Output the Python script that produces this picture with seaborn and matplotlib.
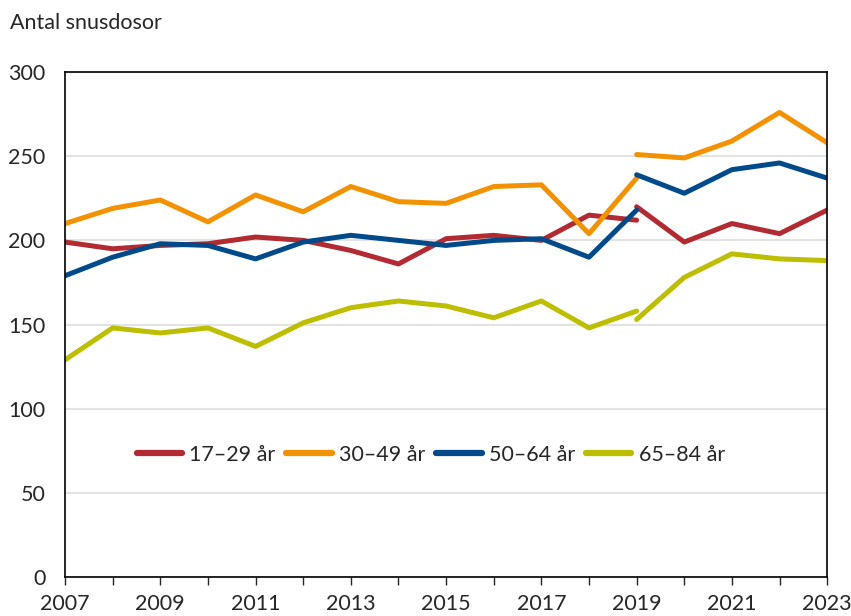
import numpy as np
import pandas as pd
import matplotlib.pyplot as plt
import seaborn as sns

sns.set_style("white")
plt.rcParams['font.family'] = ['Lato', 'DejaVu Sans']

# Values; series break at 2019 (old / new method)
years_old = list(range(2007, 2020))
years_new = list(range(2019, 2024))
groups = ["17–29 år", "30–49 år", "50–64 år", "65–84 år"]
colors = ["#B22A32", "#F39200", "#004A8A", "#BDBE00"]

old_vals = {
    "17–29 år": [199, 195, 197, 198, 202, 200, 194, 186, 201, 203, 200, 215, 212],
    "30–49 år": [210, 219, 224, 211, 227, 217, 232, 223, 222, 232, 233, 204, 237],
    "50–64 år": [179, 190, 198, 197, 189, 199, 203, 200, 197, 200, 201, 190, 218],
    "65–84 år": [129, 148, 145, 148, 137, 151, 160, 164, 161, 154, 164, 148, 158],
}
new_vals = {
    "17–29 år": [220, 199, 210, 204, 218],
    "30–49 år": [251, 249, 259, 276, 258],
    "50–64 år": [239, 228, 242, 246, 237],
    "65–84 år": [153, 178, 192, 189, 188],
}

rows = []
for g in groups:
    for y, v in zip(years_old, old_vals[g]):
        rows.append((g, "old", y, v))
    for y, v in zip(years_new, new_vals[g]):
        rows.append((g, "new", y, v))
df = pd.DataFrame(rows, columns=["grupp", "serie", "år", "antal"])

fig = plt.figure(figsize=(8.51, 6.16), dpi=100)
ax = fig.add_axes([0.0764, 0.0633, 0.8956, 0.8197])

sns.lineplot(data=df, x="år", y="antal", hue="grupp", units="serie",
             estimator=None, palette=dict(zip(groups, colors)),
             hue_order=groups, linewidth=3.6, ax=ax, legend=True)

ax.set_xlim(2007, 2023)
ax.set_ylim(0, 300)
ax.set_yticks(range(0, 301, 50))
ax.set_xticks(range(2007, 2024))
ax.set_xticklabels([str(y) if (y - 2007) % 2 == 0 else "" for y in range(2007, 2024)])
ax.yaxis.grid(True, color="#e3e3e3", linewidth=1.5)
ax.set_axisbelow(True)
ax.set_xlabel("")
ax.set_ylabel("")
for s in ax.spines.values():
    s.set_color("black")
    s.set_linewidth(1.2)
ax.tick_params(axis="x", bottom=True, direction="out", length=6, width=1,
               labelsize=15.5, pad=6)
ax.tick_params(axis="y", left=False, length=0, labelsize=15.5, pad=14)

fig.text(0.012, 0.963, "Antal snusdosor", fontsize=15.5, va="center", ha="left")

leg = ax.legend(loc="center", bbox_to_anchor=(0.48, 0.242), ncol=4, frameon=False,
                fontsize=15.5, handlelength=2.1, handletextpad=0.35, columnspacing=0.5)
for h in leg.get_lines():
    h.set_linewidth(4.5)
    h.set_solid_capstyle("round")

fig.savefig("out.png", dpi=100)
